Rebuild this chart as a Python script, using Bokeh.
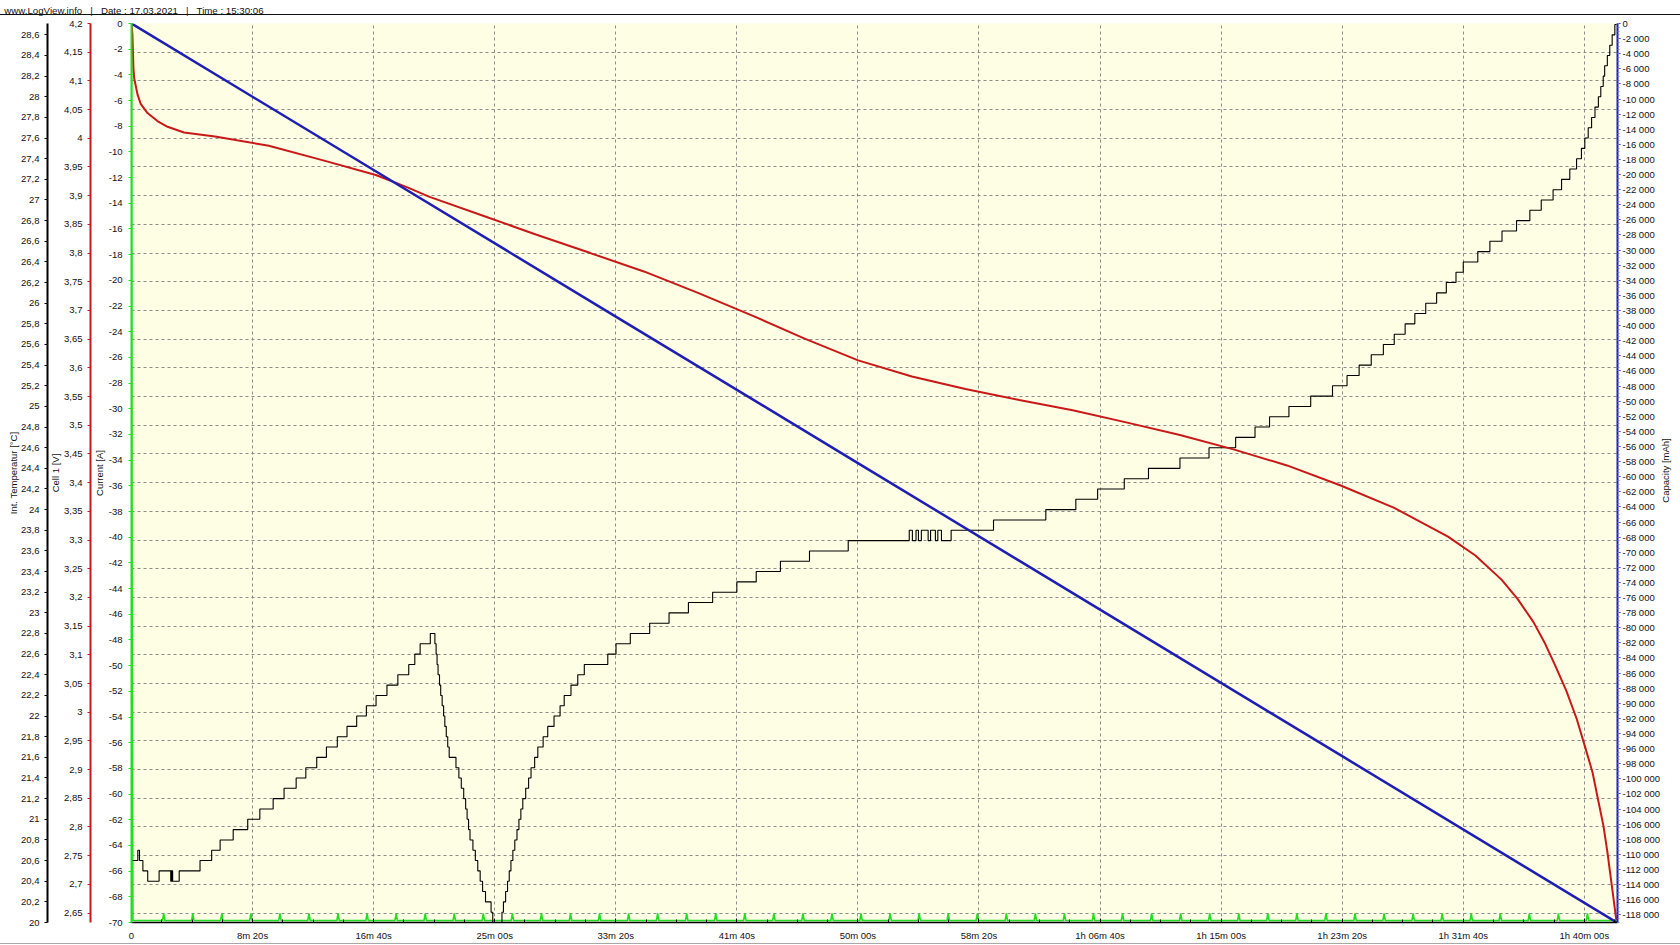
import math
from bokeh.plotting import figure
from bokeh.models import Range1d, LinearAxis, FixedTicker, Grid
from bokeh.embed import file_html
from bokeh.resources import INLINE

# ---------------- data ----------------
NB = "\u00a0\u00a0\u00a0"
header_text = "www.LogView.info" + NB + "|" + NB + "Date : 17.03.2021" + NB + "|" + NB + "Time : 15:30:06"

time_tick_values = [0, 500, 1000, 1500, 2000, 2500, 3000, 3500, 4000, 4500, 5000, 5500, 6000]
time_tick_labels = ["0", "8m 20s", "16m 40s", "25m 00s", "33m 20s", "41m 40s", "50m 00s",
                    "58m 20s", "1h 06m 40s", "1h 15m 00s", "1h 23m 20s", "1h 31m 40s", "1h 40m 00s"]

# Int. Temperatur [°C] : staircase, time of each change (s) and new value
temp_time = [0, 26, 33, 47, 67, 114, 162, 164, 166, 168, 170, 197, 283, 331, 366, 420, 480, 530,
             585, 630, 680, 720, 765, 805, 850, 890, 930, 970, 1010, 1055, 1100, 1145, 1170, 1192,
             1234, 1253, 1258, 1262, 1266, 1272, 1277, 1283, 1289, 1294, 1300, 1306, 1312, 1340,
             1352, 1362, 1372, 1380, 1386, 1392, 1398, 1410, 1420, 1430, 1440, 1450, 1462, 1485,
             1492, 1530, 1536, 1545, 1553, 1560, 1567, 1575, 1583, 1592, 1600, 1608, 1616, 1628,
             1640, 1650, 1665, 1678, 1700, 1719, 1745, 1770, 1787, 1815, 1843, 1870, 1967, 2001,
             2060, 2140, 2220, 2300, 2400, 2500, 2580, 2680, 2800, 2960, 3212, 3225, 3240, 3250,
             3262, 3290, 3300, 3320, 3330, 3345, 3385, 3560, 3776, 3900, 3990, 4100, 4200, 4330,
             4450, 4560, 4640, 4700, 4780, 4870, 4960, 5020, 5070, 5120, 5170, 5215, 5260, 5300,
             5345, 5390, 5430, 5470, 5500, 5560, 5610, 5660, 5720, 5775, 5822, 5871, 5906, 5940,
             5968, 5988, 6002, 6016, 6030, 6044, 6058, 6068, 6078, 6084, 6095, 6105, 6115, 6126,
             6133]
temp_value = [20.6, 20.7, 20.6, 20.5, 20.4, 20.5, 20.4, 20.5, 20.4, 20.5, 20.4, 20.5, 20.6, 20.7,
              20.8, 20.9, 21.0, 21.1, 21.2, 21.3, 21.4, 21.5, 21.6, 21.7, 21.8, 21.9, 22.0, 22.1,
              22.2, 22.3, 22.4, 22.5, 22.6, 22.7, 22.8, 22.7, 22.6, 22.5, 22.4, 22.3, 22.2, 22.1,
              22.0, 21.9, 21.8, 21.7, 21.6, 21.5, 21.4, 21.3, 21.2, 21.1, 21.0, 20.9, 20.8, 20.7,
              20.6, 20.5, 20.4, 20.3, 20.2, 20.1, 20.0, 20.1, 20.2, 20.3, 20.4, 20.5, 20.6, 20.7,
              20.8, 20.9, 21.0, 21.1, 21.2, 21.3, 21.4, 21.5, 21.6, 21.7, 21.8, 21.9, 22.0, 22.1,
              22.2, 22.3, 22.4, 22.5, 22.6, 22.7, 22.8, 22.9, 23.0, 23.1, 23.2, 23.3, 23.4, 23.5,
              23.6, 23.7, 23.8, 23.7, 23.8, 23.7, 23.8, 23.7, 23.8, 23.7, 23.8, 23.7, 23.8, 23.9,
              24.0, 24.1, 24.2, 24.3, 24.4, 24.5, 24.6, 24.7, 24.8, 24.9, 25.0, 25.1, 25.2, 25.3,
              25.4, 25.5, 25.6, 25.7, 25.8, 25.9, 26.0, 26.1, 26.2, 26.3, 26.4, 26.5, 26.6, 26.7,
              26.8, 26.9, 27.0, 27.1, 27.2, 27.3, 27.4, 27.5, 27.6, 27.7, 27.8, 27.9, 28.0, 28.1,
              28.2, 28.3, 28.4, 28.5, 28.6, 28.7, 28.7]

# Cell 1 [V]
volt_time = [0, 4, 8, 11, 25, 38, 66, 107, 149, 217, 345, 567, 788, 1009, 1142, 1231, 1452, 1673,
             1895, 2116, 2337, 2559, 2780, 3001, 3223, 3444, 3666, 3887, 4108, 4330, 4551, 4772,
             4994, 5215, 5437, 5550, 5658, 5725, 5790, 5835, 5879, 5925, 5968, 6000, 6034, 6057,
             6079, 6095, 6110, 6132]
volt_value = [4.2, 4.18, 4.122, 4.105, 4.076, 4.06, 4.044, 4.03, 4.02, 4.01, 4.003, 3.987, 3.962,
              3.936, 3.914, 3.898, 3.865, 3.832, 3.800, 3.768, 3.731, 3.692, 3.651, 3.613, 3.585,
              3.563, 3.544, 3.526, 3.505, 3.483, 3.458, 3.430, 3.395, 3.356, 3.306, 3.273, 3.231,
              3.197, 3.157, 3.122, 3.082, 3.038, 2.989, 2.944, 2.895, 2.847, 2.802, 2.757, 2.709,
              2.638]

# Capacity [mAh]
cap_time = [0, 1000, 2000, 3000, 4000, 5000, 6133]
cap_value = [0, -19400, -38800, -58200, -77600, -97000, -119000]

# Current [A]: start-up, constant level, short spikes
current_start_time = [0, 2, 6]
current_start_value = [0, -40, -69.85]
current_level = -69.85
current_spike_top = -69.3
current_spike_time = [133, 253, 373, 493, 613, 733, 853, 973, 1093, 1213, 1333, 1453, 1573, 1693,
                      1813, 1933, 2053, 2173, 2293, 2413, 2533, 2653, 2773, 2893, 3013, 3133, 3253,
                      3373, 3493, 3613, 3733, 3853, 3973, 4093, 4213, 4333, 4453, 4573, 4693, 4813,
                      4933, 5053, 5173, 5293, 5413, 5533, 5653, 5773, 5893, 6013]
current_end_time = 6133

temp_ticks = [round(20 + 0.2 * i, 1) for i in range(44)]
volt_ticks = [round(4.2 - 0.05 * i, 2) for i in range(32)]
cur_ticks = list(range(0, -71, -2))
cap_ticks = list(range(0, -118001, -2000))


def dec_label(v, nd):
    s = f"{v:.{nd}f}".rstrip("0").rstrip(".")
    return s.replace(".", ",")


temp_labels = {v: dec_label(v, 1) for v in temp_ticks}
volt_labels = {v: dec_label(v, 2) for v in volt_ticks}
cur_labels = {v: str(v) for v in cur_ticks}
cap_labels = {v: f"{v:,}".replace(",", " ") for v in cap_ticks}

# ---------------- styling ----------------
FONT = "Liberation Sans"
FS = "9.5px"
TXT = "#111111"
C_TEMP = "#000000"
C_VOLT = "#C81818"
C_CUR = "#22DD22"
C_CAP = "#1E1EB4"

W, H = 1680, 945
X_END = 6137
CAP_MIN = -119020
p = figure(width=W, height=H, output_backend="svg", toolbar_location=None,
           x_range=Range1d(0, X_END), y_range=Range1d(-70, 0), y_axis_location=None,
           min_border_left=131, min_border_right=63, min_border_top=23, min_border_bottom=23,
           background_fill_color="#FEFEE4", border_fill_color=None)
p.outline_line_color = None
p.extra_y_ranges = {"temp": Range1d(20, 28.71), "volt": Range1d(2.6336, 4.2),
                    "cap": Range1d(CAP_MIN, 0)}
p.ygrid.grid_line_color = None
xa = p.below[0]

# thin rule under the header line and the window edge at the bottom
p.styles = {"background-color": "white",
            "background-image": "linear-gradient(#111,#111), linear-gradient(#a8a8a8,#a8a8a8)",
            "background-size": "100% 1px, 100% 1px",
            "background-position": "0 14px, 0 943px",
            "background-repeat": "no-repeat"}


def style_axis(ax, color):
    ax.axis_line_color = color
    ax.axis_line_width = 2
    ax.major_tick_line_color = color
    ax.major_tick_in = 0
    ax.major_tick_out = 3
    ax.minor_tick_in = 0
    ax.minor_tick_out = 0
    ax.minor_tick_line_color = None
    ax.major_label_text_font = FONT
    ax.major_label_text_font_size = FS
    ax.major_label_text_color = TXT
    ax.axis_label_text_font = FONT
    ax.axis_label_text_font_size = FS
    ax.axis_label_text_font_style = "normal"
    ax.axis_label_text_color = TXT


def bare_axis(cls_kw, ticks, overrides, standoff, size, orient="horizontal"):
    return LinearAxis(ticker=FixedTicker(ticks=ticks), major_label_overrides=overrides,
                      axis_line_color=None, major_tick_line_color=None, minor_tick_line_color=None,
                      major_tick_in=0, major_tick_out=0, minor_tick_in=0, minor_tick_out=0,
                      major_label_standoff=standoff, major_label_orientation=orient,
                      major_label_text_font=FONT, major_label_text_font_size=size,
                      major_label_text_color=TXT, **cls_kw)


def spacer(width, rng):
    return LinearAxis(y_range_name=rng, ticker=FixedTicker(ticks=[]), axis_line_color=None,
                      major_tick_line_color=None, minor_tick_line_color=None,
                      major_tick_in=0, major_tick_out=width, minor_tick_in=0, minor_tick_out=0)


cur_axis = LinearAxis(y_range_name="default", ticker=FixedTicker(ticks=cur_ticks),
                      major_label_overrides=cur_labels, axis_label="Current [A]")
style_axis(cur_axis, C_CUR)
cur_axis.major_label_standoff = 6
cur_axis.axis_label_standoff = 1

volt_axis = LinearAxis(y_range_name="volt", ticker=FixedTicker(ticks=volt_ticks),
                       major_label_overrides=volt_labels, axis_label="Cell 1 [V]")
style_axis(volt_axis, C_VOLT)
volt_axis.major_label_standoff = 5
volt_axis.axis_label_standoff = 0

temp_axis = LinearAxis(y_range_name="temp", ticker=FixedTicker(ticks=temp_ticks),
                       major_label_overrides=temp_labels, axis_label="Int. Temperatur [°C]")
style_axis(temp_axis, C_TEMP)
temp_axis.major_label_standoff = 5
temp_axis.axis_label_standoff = -1

cap_axis = LinearAxis(y_range_name="cap",
                      ticker=FixedTicker(ticks=cap_ticks, minor_ticks=list(range(0, -119001, -500))),
                      major_label_overrides=cap_labels)
style_axis(cap_axis, C_CAP)
cap_axis.minor_tick_out = 2
cap_axis.minor_tick_line_color = "#7A7AD8"
cap_axis.major_label_standoff = 2

# "Capacity [mAh]" reads bottom-to-top; its text starts at this position on the capacity scale
cap_title_start = CAP_MIN * 0.533
cap_title_axis = bare_axis({"y_range_name": "cap"}, [cap_title_start],
                           {cap_title_start: "Capacity [mAh]"}, 2, FS, math.pi / 2)

# header line of the log viewer, centred over a time position near the left edge
header_pos = 10
header_axis = bare_axis({}, [header_pos], {header_pos: header_text}, 8, "9.7px")

p.add_layout(cur_axis, "left")
p.add_layout(spacer(4, "default"), "left")
p.add_layout(volt_axis, "left")
p.add_layout(spacer(5, "volt"), "left")
p.add_layout(temp_axis, "left")
p.add_layout(cap_axis, "right")
p.add_layout(cap_title_axis, "right")
p.add_layout(header_axis, "above")

# x axis (time)
xt = FixedTicker(ticks=time_tick_values, minor_ticks=list(range(0, X_END, 125)))
xa.ticker = xt
xa.major_label_overrides = dict(zip(time_tick_values, time_tick_labels))
xa.axis_line_color = "black"
xa.axis_line_width = 1.5
xa.major_tick_in = 4
xa.major_tick_out = 0
xa.minor_tick_in = 3
xa.minor_tick_out = 0
xa.major_tick_line_color = "black"
xa.minor_tick_line_color = "black"
xa.major_label_standoff = 7
xa.major_label_text_font = FONT
xa.major_label_text_font_size = FS
xa.major_label_text_color = TXT

p.xgrid.ticker = xt
p.xgrid.grid_line_color = "#8C8C8C"
p.xgrid.grid_line_dash = "3 3"
p.xgrid.grid_line_width = 1

vgrid = Grid(dimension=1, ticker=FixedTicker(ticks=volt_ticks), y_range_name="volt",
             grid_line_color="#8C8C8C", grid_line_dash="3 3", grid_line_width=1)
p.add_layout(vgrid, "center")

# ---------------- series ----------------
cur_x = list(current_start_time)
cur_y = list(current_start_value)
for s in current_spike_time:
    cur_x += [s - 5, s, s + 5]
    cur_y += [current_level, current_spike_top, current_level]
cur_x.append(current_end_time)
cur_y.append(current_level)

p.line(cur_x, cur_y, line_color=C_CUR, line_width=1.6)
p.step(temp_time, temp_value, mode="after", y_range_name="temp", line_color=C_TEMP, line_width=1.1)
p.line(volt_time, volt_value, y_range_name="volt", line_color=C_VOLT, line_width=2)
p.line(cap_time, cap_value, y_range_name="cap", line_color=C_CAP, line_width=2.5)

open("out.html", "w").write(file_html(p, INLINE))
